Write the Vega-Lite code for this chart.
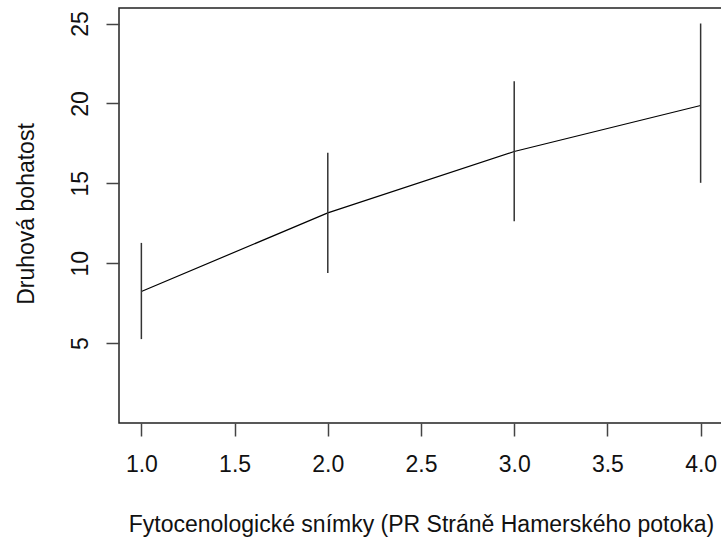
{
  "$schema": "https://vega.github.io/schema/vega-lite/v6.json",
  "width": 604,
  "height": 415,
  "autosize": {"type": "none"},
  "padding": {"left": 119, "top": 8, "right": 0, "bottom": 119},
  "background": "white",
  "config": {
    "font": "Liberation Sans",
    "view": {"stroke": "#222222", "strokeWidth": 1.5}
  },
  "data": {
    "values": [
      {"x": 1, "mean": 8.23, "lo": 5.25, "hi": 11.27},
      {"x": 2, "mean": 13.15, "lo": 9.39, "hi": 16.91},
      {"x": 3, "mean": 16.99, "lo": 12.62, "hi": 21.38},
      {"x": 4, "mean": 19.87, "lo": 15.03, "hi": 25.0}
    ]
  },
  "layer": [
    {
      "mark": {"type": "line", "color": "#000000", "strokeWidth": 1.2},
      "encoding": {
        "x": {
          "field": "x",
          "type": "quantitative",
          "scale": {"domain": [0.88, 4.12], "nice": false, "zero": false},
          "axis": {
            "values": [1, 1.5, 2, 2.5, 3, 3.5, 4],
            "format": ".1f",
            "grid": false,
            "domain": false,
            "tickSize": 13,
            "tickColor": "#444444",
            "tickWidth": 1.5,
            "labelFontSize": 23,
            "labelColor": "#111111",
            "labelPadding": 17,
            "labelFlush": false,
            "title": "Fytocenologické snímky (PR Stráně Hamerského potoka)",
            "titleFontSize": 23,
            "titleFontWeight": "normal",
            "titleColor": "#111111",
            "titleBaseline": "alphabetic",
            "titleAlign": "center",
            "titleX": 302,
            "titleY": 108
          }
        },
        "y": {
          "field": "mean",
          "type": "quantitative",
          "scale": {"domain": [0, 25.97], "nice": false, "zero": false},
          "axis": {
            "values": [5, 10, 15, 20, 25],
            "grid": false,
            "domain": false,
            "tickSize": 13,
            "tickColor": "#444444",
            "tickWidth": 1.5,
            "labelFontSize": 23,
            "labelColor": "#111111",
            "labelAngle": 270,
            "labelAlign": "center",
            "labelBaseline": "alphabetic",
            "labelPadding": 19,
            "title": "Druhová bohatost",
            "titleFontSize": 23,
            "titleFontWeight": "normal",
            "titleColor": "#111111",
            "titleAngle": 270,
            "titleAlign": "center",
            "titleBaseline": "alphabetic",
            "titleX": -86,
            "titleY": 205.5
          }
        }
      }
    },
    {
      "mark": {"type": "rule", "color": "#333333", "strokeWidth": 1.5},
      "encoding": {
        "x": {"field": "x", "type": "quantitative"},
        "y": {"field": "lo", "type": "quantitative"},
        "y2": {"field": "hi"}
      }
    }
  ]
}
